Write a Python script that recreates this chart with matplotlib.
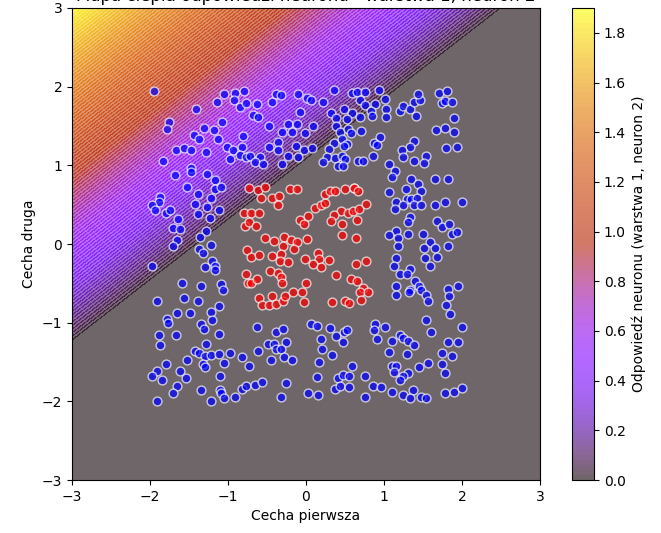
import numpy as np
import matplotlib
matplotlib.use("Agg")
import matplotlib.pyplot as plt

w1, w2, bias = -0.339, 0.441, -0.459

# class 0 (blue) points
blue_x = [-1.95, -1.41, -1.75, -1.78, -1.14, -1.05, -0.91, -0.79, -0.92, -0.85, -0.77, -1.08, -1.31, -1.18,
          -1.44, -1.37, -1.13, -1.67, -1.56, -1.47, -1.28, -1.01, -0.94, -0.82, -0.98, -0.85, -0.77, -0.81,
          -1.83, -1.48, -1.47, -1.68, -1.27, -1.17,
          -0.38, -0.32, -0.63, -0.43, -0.10, 0.01, 0.06, 0.22, 0.36, 0.59, -0.68, -0.61, -0.08, 0.32, 0.49,
          0.59, 0.39, 0.52, -0.48, -0.23, -0.12, 0.09, 0.39, 0.44, 0.54, 0.58, -0.31, -0.18, -0.01, -0.36,
          0.36, 0.46, 0.52, -0.48, -0.36, -0.13, -0.02, 0.08, 0.29, 0.49, -0.72, -0.59, -0.23, -0.10, 0.27,
          0.37, 0.46, 0.50, -0.65, -0.31, 0.41, 0.47, 0.22, -0.55,
          0.65, 0.76, 0.94, 0.69, 0.76, 0.88, 1.01, 1.03, 0.84, 0.85, 0.69, 1.03, 1.21, 1.25, 1.33, 1.38,
          1.46, 1.44, 1.41, 1.71, 1.81, 1.75, 1.78, 1.87, 1.90, 1.67, 1.78, 1.90, 0.71, 0.95, 0.87, 0.91,
          1.38, 1.34, 1.23, 1.25, 1.79, 1.94, 1.54, 1.38, 1.51, 1.06, 1.14, 1.10, 0.86, 0.67, 0.73, 1.35,
          1.44, 1.65, 1.82,
          -1.52, -1.39, -1.17, -1.09, -1.87, -1.89, -1.97, -1.94, -1.42, -1.27, -1.22, -1.11, -1.79, -1.74,
          -1.39, -1.23, -1.64, -1.70, -1.61, -1.28, -1.36, -1.65, -1.71, -1.37, -1.32, -1.22, -1.21, -1.29,
          -1.17, -1.17, -1.98, -1.59, -1.34, -1.09, -1.07,
          1.07, 1.28, 1.48, 1.30, 1.35, 1.42, 1.16, 1.25, 1.14, 1.38, 1.47, 1.65, 1.78, 2.00, 1.34, 1.31,
          1.68, 1.74, 1.84, 1.87, 1.93, 1.16, 1.06, 1.18, 1.31, 1.50, 1.18, 1.59, 1.51, 1.65, 1.82, 1.53,
          1.68, 1.59, 1.16, 1.13, 1.34, 1.20, 1.29, 1.40, 1.45, 1.16, 1.33, 1.48, 1.82, 1.95,
          -1.91, -1.57, -1.39, -1.11, -1.22, -1.21, -1.65, -1.49, -1.78, -1.77, -1.34, -1.31, -1.89, -1.67,
          -1.11, -1.87, -1.28, -1.42, -1.37, -1.29, -1.22, -1.12, -0.97, -0.82, -1.32, -1.29, -1.52, -1.05,
          -1.79, -1.91, -1.98, -1.85, -1.61, -1.54, -1.10, -0.73, -1.65, -1.70, -1.35, -1.10, -1.09, -1.91,
          -1.22, -1.05, -0.91, -0.82, -0.77,
          -0.63, -0.38, -0.30, -0.25, -0.49, -0.41, -0.38, -0.32, -0.62, -0.28, -0.18, -0.45, 0.07, 0.14,
          0.31, 0.19, 0.39, 0.49, 0.52, 0.47, 0.21, 0.34, 0.17, 0.59, 0.14, 0.41, 0.48, 0.55, 0.37, 0.44,
          0.55, -0.65, -0.57, -0.25, -0.32, 0.03, 0.16,
          1.16, 1.32, 1.54, 1.56, 1.84, 1.80, 1.85, 1.54, 0.88, 1.01, 0.87, 2.00, 1.60, 0.91, 1.10, 1.20,
          1.25, 1.31, 1.38, 1.82, 1.95, 1.07, 1.29, 1.75, 1.87, 1.45, 1.57, 1.75, 1.78, 1.10, 1.16, 1.31,
          1.13, 1.25, 1.20, 0.76, 0.86, 0.96, 1.10, 1.25, 1.37, 1.33, 1.47, 1.54, 0.76, 1.78, 1.90, 2.00]
blue_y = [1.95, 1.72, 1.55, 1.46, 1.81, 1.91, 1.92, 1.94, 1.83, 1.74, 1.79, 1.55, 1.47, 1.45,
          1.38, 1.33, 1.34, 1.20, 1.22, 1.19, 1.17, 1.23, 1.19, 1.23, 1.08, 1.13, 1.11, 1.37,
          1.06, 0.96, 0.91, 0.88, 0.89, 0.81,
          1.91, 1.89, 1.78, 1.81, 1.91, 1.85, 1.83, 1.81, 1.96, 1.92, 1.64, 1.62, 1.68, 1.66, 1.71,
          1.67, 1.60, 1.59, 1.50, 1.52, 1.52, 1.50, 1.50, 1.43, 1.46, 1.41, 1.42, 1.43, 1.41, 1.30,
          1.28, 1.33, 1.27, 1.23, 1.19, 1.25, 1.19, 1.22, 1.21, 1.25, 1.12, 1.10, 1.12, 1.10, 1.11,
          1.09, 1.12, 1.08, 1.04, 1.02, 0.99, 0.99, 1.04, 1.02,
          1.93, 1.93, 1.96, 1.83, 1.77, 1.78, 1.84, 1.72, 1.69, 1.63, 1.62, 1.62, 1.69, 1.76, 1.72, 1.80,
          1.83, 1.91, 1.63, 1.92, 1.94, 1.79, 1.82, 1.80, 1.60, 1.45, 1.47, 1.43, 1.44, 1.36, 1.29, 1.26,
          1.31, 1.23, 1.19, 1.11, 1.22, 1.23, 1.12, 1.05, 1.03, 1.02, 0.93, 0.85, 1.12, 1.06, 1.05, 0.83,
          0.76, 0.83, 0.82,
          0.72, 0.63, 0.70, 0.72, 0.60, 0.53, 0.50, 0.43, 0.51, 0.47, 0.58, 0.43, 0.40, 0.43,
          0.38, 0.33, 0.32, 0.20, 0.19, 0.17, 0.09, 0.05, -0.02, -0.06, -0.12, -0.01, -0.22, -0.29,
          -0.28, -0.33, -0.28, -0.50, -0.53, -0.51, -0.58,
          0.66, 0.70, 0.68, 0.57, 0.57, 0.58, 0.53, 0.50, 0.44, 0.50, 0.49, 0.49, 0.53, 0.53, 0.34, 0.28,
          0.29, 0.21, 0.26, 0.13, 0.15, 0.17, 0.11, 0.08, 0.13, 0.13, -0.02, 0.02, -0.05, -0.05, -0.02, -0.18,
          -0.16, -0.28, -0.18, -0.28, -0.32, -0.38, -0.38, -0.47, -0.53, -0.53, -0.58, -0.58, -0.57, -0.53,
          -0.73, -0.69, -0.72, -0.79, -0.86, -0.97, -0.88, -0.88, -0.95, -1.00, -1.02, -1.08, -1.16, -1.16,
          -1.14, -1.29, -1.27, -1.36, -1.38, -1.42, -1.41, -1.40, -1.38, -1.44, -1.52, -1.56, -1.48, -1.51,
          -1.52, -1.61, -1.68, -1.73, -1.62, -1.70, -1.68, -1.55, -1.80, -1.89, -1.85, -1.85, -1.90, -1.99,
          -1.99, -1.96, -1.94, -1.84, -1.80,
          -1.05, -1.12, -1.08, -1.25, -1.27, -1.27, -1.33, -1.34, -1.36, -1.44, -1.48, -1.47, -1.02, -1.04,
          -1.07, -1.21, -1.17, -1.12, -1.09, -1.24, -1.34, -1.41, -1.50, -1.55, -1.69, -1.70, -1.66, -1.68,
          -1.84, -1.80, -1.82, -1.79, -1.75, -1.77, -1.95, -1.89, -1.92,
          -0.65, -0.61, -0.65, -0.73, -0.66, -0.77, -0.89, -0.97, -1.02, -1.05, -1.09, -1.05, -1.12, -1.21,
          -1.23, -1.16, -1.19, -1.23, -1.29, -1.25, -1.24, -1.37, -1.40, -1.39, -1.42, -1.56, -1.51, -1.53,
          -1.64, -1.55, -1.55, -1.64, -1.63, -1.68, -1.73, -1.68, -1.80, -1.82, -1.88, -1.92, -1.85, -1.96,
          -1.94, -1.96, -1.95, -1.89, -1.88, -1.83]

# class 1 (red) points
red_x = [-0.80, -0.78, -0.75, -0.77, -0.74,
         -0.73, -0.61, -0.52, -0.58, -0.44, -0.35, -0.36, -0.21, -0.11, -0.70, -0.60, -0.73, -0.64, -0.08,
         -0.02, 0.03, 0.12, 0.19, 0.25, 0.24, 0.31, 0.37, 0.50, 0.62, 0.45, 0.36, 0.54, 0.32, 0.46, 0.46,
         -0.52, -0.41, -0.28, -0.19, -0.11, 0.01, -0.30, -0.15, -0.71, -0.60, -0.43, -0.32, -0.33, -0.23,
         -0.01, 0.15, 0.17, 0.09, 0.19, 0.29, -0.46, -0.36, -0.32, -0.70, -0.63, -0.31, -0.00, 0.39, 0.58,
         0.61, 0.67, 0.60, 0.68, 0.77, 0.66, 0.64, 0.64, 0.77, 0.66, 0.73,
         -0.60, -0.57, -0.47, -0.43, -0.38, -0.29, -0.27, -0.16, -0.05, -0.03, 0.34, 0.50, 0.55,
         0.69, 0.79, 0.71]
red_y = [0.39, 0.23, -0.08, -0.38, -0.50,
         0.71, 0.69, 0.73, 0.58, 0.59, 0.61, 0.50, 0.70, 0.70, 0.40, 0.40, 0.28, 0.23, 0.30,
         0.25, 0.36, 0.46, 0.50, 0.52, 0.63, 0.67, 0.68, 0.70, 0.71, 0.42, 0.37, 0.40, 0.29, 0.25, 0.11,
         0.08, 0.04, 0.09, 0.05, 0.02, 0.06, -0.03, -0.06, -0.17, -0.14, -0.15, -0.13, -0.22, -0.23,
         -0.19, -0.11, -0.19, -0.26, -0.29, -0.20, -0.34, -0.37, -0.42, -0.50, -0.44, -0.50, -0.50, -0.40, -0.44,
         0.71, 0.68, 0.42, 0.44, 0.51, 0.30, 0.08, -0.25, -0.22, -0.47, -0.56,
         -0.68, -0.77, -0.77, -0.66, -0.76, -0.73, -0.66, -0.61, -0.61, -0.74, -0.74, -0.73, -0.75,
         -0.61, -0.61, -0.71]

xs = np.linspace(-3, 3, 400)
xx, yy = np.meshgrid(xs, xs)
zz = np.maximum(0, w1 * xx + w2 * yy + bias)

fig = plt.figure(figsize=(6.61, 5.33), dpi=100)
ax = fig.add_axes([0.1089, 0.0994, 0.708, 0.8856])
cax = fig.add_axes([0.8654, 0.0994, 0.0333, 0.8856])

cs = ax.contourf(xx, yy, zz, levels=100, cmap='gnuplot', alpha=0.6)
ax.scatter(blue_x, blue_y, c='blue', s=40, alpha=0.7, edgecolors='w')
ax.scatter(red_x, red_y, c='red', s=40, alpha=0.7, edgecolors='w')

ax.set_xlim(-3, 3)
ax.set_ylim(-3, 3)
ax.set_xlabel('Cecha pierwsza')
ax.set_ylabel('Cecha druga')
ax.set_title('Mapa ciepła odpowiedzi neuronu - warstwa 1, neuron 2', pad=5)

cb = fig.colorbar(cs, cax=cax)
cb.set_label('Odpowiedź neuronu (warstwa 1, neuron 2)')
cb.set_ticks(np.arange(0, 1.81, 0.2))

fig.savefig('out.png', dpi=100)
